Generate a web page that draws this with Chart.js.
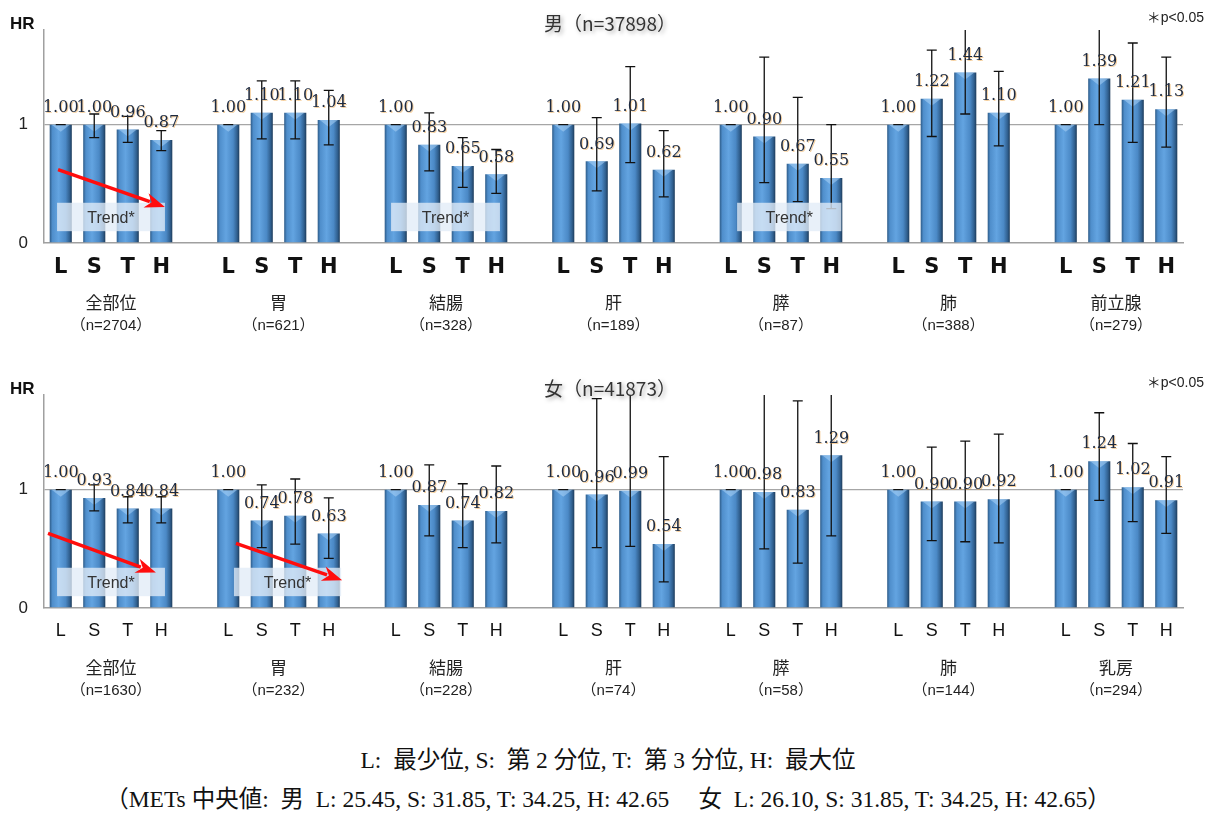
<!DOCTYPE html>
<html>
<head>
<meta charset="utf-8">
<script src="https://cdn.jsdelivr.net/npm/chart.js@4.4.1/dist/chart.umd.min.js"></script>
<style>
  body { margin: 0; background: #fff; width: 1216px; height: 813px; position: relative; overflow: hidden; }
  .panel { position: absolute; left: 0; width: 1216px; height: 365px; }
  #p1 { top: 0; }
  #p2 { top: 365px; }
  .note { position: absolute; left: 0; width: 1216px; text-align: center; white-space: pre;
          font-family: "Liberation Serif", "Noto Sans CJK JP", serif; font-size: 23.5px; line-height: 28px;
          color: #111; }
</style>
</head>
<body>
<div class="panel" id="p1"><canvas id="male"></canvas></div>
<div class="panel" id="p2"><canvas id="female"></canvas></div>
<div class="note" style="top:746px">L:  最少位, S:  第 2 分位, T:  第 3 分位, H:  最大位</div>
<div class="note" style="top:785px">（METs 中央値:  男  L: 25.45, S: 31.85, T: 34.25, H: 42.65　 女  L: 26.10, S: 31.85, T: 34.25, H: 42.65）</div>
<script>
const quartiles = ['L', 'S', 'T', 'H'];

// 男
const sitesMale = ['全部位', '胃', '結腸', '肝', '膵', '肺', '前立腺'];
const countsMale = [2704, 621, 328, 189, 87, 388, 279];
const hrMale = [
  1.00, 1.00, 0.96, 0.87,
  1.00, 1.10, 1.10, 1.04,
  1.00, 0.83, 0.65, 0.58,
  1.00, 0.69, 1.01, 0.62,
  1.00, 0.90, 0.67, 0.55,
  1.00, 1.22, 1.44, 1.10,
  1.00, 1.39, 1.21, 1.13
];
const lowMale = [
  1.00, 0.89, 0.85, 0.78,
  1.00, 0.88, 0.88, 0.83,
  1.00, 0.61, 0.47, 0.42,
  1.00, 0.44, 0.68, 0.39,
  1.00, 0.51, 0.35, 0.29,
  1.00, 0.90, 1.09, 0.82,
  1.00, 1.00, 0.85, 0.81
];
const highMale = [
  1.00, 1.09, 1.07, 0.95,
  1.00, 1.37, 1.37, 1.29,
  1.00, 1.10, 0.89, 0.79,
  1.00, 1.06, 1.49, 0.95,
  1.00, 1.57, 1.23, 1.00,
  1.00, 1.63, 1.95, 1.45,
  1.00, 1.95, 1.69, 1.57
];
const trendSitesMale = [0, 2, 4];
const arrowSitesMale = [0];

// 女
const sitesFemale = ['全部位', '胃', '結腸', '肝', '膵', '肺', '乳房'];
const countsFemale = [1630, 232, 228, 74, 58, 144, 294];
const hrFemale = [
  1.00, 0.93, 0.84, 0.84,
  1.00, 0.74, 0.78, 0.63,
  1.00, 0.87, 0.74, 0.82,
  1.00, 0.96, 0.99, 0.54,
  1.00, 0.98, 0.83, 1.29,
  1.00, 0.90, 0.90, 0.92,
  1.00, 1.24, 1.02, 0.91
];
const lowFemale = [
  1.00, 0.82, 0.72, 0.72,
  1.00, 0.51, 0.54, 0.42,
  1.00, 0.61, 0.51, 0.55,
  1.00, 0.51, 0.52, 0.22,
  1.00, 0.50, 0.38, 0.61,
  1.00, 0.57, 0.56, 0.55,
  1.00, 0.91, 0.73, 0.63
];
const highFemale = [
  1.00, 1.04, 0.94, 0.94,
  1.00, 1.04, 1.09, 0.93,
  1.00, 1.21, 1.05, 1.20,
  1.00, 1.77, 1.95, 1.28,
  1.00, 1.95, 1.75, 1.95,
  1.00, 1.36, 1.41, 1.47,
  1.00, 1.65, 1.39, 1.28
];
const trendSitesFemale = [0, 1];
const arrowSitesFemale = [0, 1];

// annotation geometry, in category units from the site's L slot and in HR units
const trendGeomMale = {
  0: { box: [-0.11, 3.11], arrow: [-0.08, 0.62, 3.11, 0.305] },
  2: { box: [-0.14, 3.11] },
  4: { box: [0.19, 3.30] }
};
const trendGeomFemale = {
  0: { box: [-0.11, 3.11], arrow: [-0.38, 0.63, 2.84, 0.30] },
  1: { box: [0.17, 3.37], arrow: [0.23, 0.546, 3.40, 0.235] }
};

// one blank slot between sites
function spread(values, blank) {
  const out = [];
  for (let g = 0; g < values.length / 4; g++) {
    if (g > 0) out.push(blank);
    for (let k = 0; k < 4; k++) out.push(values[g * 4 + k]);
  }
  return out;
}

const panelPlugin = {
  id: 'panel',
  afterDatasetsDraw(chart, args, o) {
    const { ctx, chartArea: a, scales: { x, y } } = chart;
    const hr = chart.data.datasets[0].data;
    const bars = chart.getDatasetMeta(0).data;

    // bevel highlight on bar tops
    ctx.save();
    bars.forEach((b, i) => {
      if (hr[i] == null) return;
      const w = b.width;
      ctx.beginPath();
      ctx.moveTo(b.x - w / 2 + 2, b.y);
      ctx.lineTo(b.x + w / 2 - 2, b.y);
      ctx.lineTo(b.x, b.y + 7);
      ctx.closePath();
      ctx.fillStyle = 'rgba(170,210,245,0.55)';
      ctx.fill();
    });
    ctx.restore();

    // error bars
    ctx.save();
    ctx.beginPath();
    ctx.rect(a.left, a.top, a.width, a.height);
    ctx.clip();
    ctx.strokeStyle = '#111';
    ctx.lineWidth = 1.3;
    bars.forEach((b, i) => {
      if (hr[i] == null) return;
      const lo = y.getPixelForValue(o.low[i]);
      const hi = y.getPixelForValue(o.high[i]);
      ctx.beginPath();
      ctx.moveTo(b.x, lo); ctx.lineTo(b.x, hi);
      ctx.moveTo(b.x - 5, lo); ctx.lineTo(b.x + 5, lo);
      ctx.moveTo(b.x - 5, hi); ctx.lineTo(b.x + 5, hi);
      ctx.stroke();
    });
    ctx.restore();

    // value labels
    ctx.save();
    ctx.font = '16px "DejaVu Serif", serif';
    ctx.textAlign = 'center';
    ctx.textBaseline = 'middle';
    ctx.shadowColor = 'rgba(235,150,40,0.45)';
    ctx.shadowOffsetX = 1;
    ctx.shadowOffsetY = 1;
    ctx.fillStyle = '#1d2a40';
    bars.forEach((b, i) => {
      if (hr[i] == null) return;
      ctx.fillText(hr[i].toFixed(2), b.x, b.y - 17);
    });
    ctx.restore();

    // trend boxes and arrows
    const slot = g => g * 5;
    ctx.save();
    o.trends.forEach(g => {
      const geo = o.geom[g];
      const x0 = x.getPixelForValue(slot(g) + geo.box[0]);
      const x1 = x.getPixelForValue(slot(g) + geo.box[1]);
      const y0 = y.getPixelForValue(0.34);
      const y1 = y.getPixelForValue(0.10);
      ctx.fillStyle = 'rgba(226,236,247,0.78)';
      ctx.fillRect(x0, y0, x1 - x0, y1 - y0);
      ctx.fillStyle = '#333';
      ctx.font = '16px "Liberation Sans", sans-serif';
      ctx.textAlign = 'center';
      ctx.textBaseline = 'middle';
      ctx.fillText('Trend*', (x0 + x1) / 2, (y0 + y1) / 2 + 2);
    });
    o.arrows.forEach(g => {
      const r = o.geom[g].arrow;
      const ax = x.getPixelForValue(slot(g) + r[0]), ay = y.getPixelForValue(r[1]);
      const bx = x.getPixelForValue(slot(g) + r[2]), by = y.getPixelForValue(r[3]);
      const ang = Math.atan2(by - ay, bx - ax);
      const hl = 20, hw = 7.5;
      const cx = bx - hl * Math.cos(ang), cy = by - hl * Math.sin(ang);
      ctx.strokeStyle = '#ff0d0d';
      ctx.fillStyle = '#ff0d0d';
      ctx.lineWidth = 3.5;
      ctx.beginPath();
      ctx.moveTo(ax, ay); ctx.lineTo(cx + 4 * Math.cos(ang), cy + 4 * Math.sin(ang));
      ctx.stroke();
      ctx.beginPath();
      ctx.moveTo(bx, by);
      ctx.lineTo(cx + hw * Math.sin(ang), cy - hw * Math.cos(ang));
      ctx.lineTo(cx + 6 * Math.cos(ang), cy + 6 * Math.sin(ang));
      ctx.lineTo(cx - hw * Math.sin(ang), cy + hw * Math.cos(ang));
      ctx.closePath();
      ctx.fill();
    });
    ctx.restore();
  },
  afterDraw(chart, args, o) {
    const { ctx, chartArea: a, scales: { x } } = chart;
    ctx.save();
    // HR label
    ctx.fillStyle = '#111';
    ctx.font = 'bold 17px "Liberation Sans", sans-serif';
    ctx.textAlign = 'left';
    ctx.textBaseline = 'middle';
    ctx.fillText('HR', 10, 24);
    // p-value note
    ctx.font = '14px "Liberation Sans", "Noto Sans CJK JP", sans-serif';
    ctx.textAlign = 'right';
    ctx.fillStyle = '#222';
    ctx.fillText('＊p<0.05', 1204, 18);
    // title
    ctx.font = '19px "Noto Sans CJK JP", sans-serif';
    ctx.textAlign = 'center';
    ctx.shadowColor = 'rgba(0,0,0,0.35)';
    ctx.shadowBlur = 4;
    ctx.shadowOffsetX = 2;
    ctx.shadowOffsetY = 2;
    ctx.fillStyle = '#333';
    ctx.fillText(o.title, 610, 24);
    ctx.shadowColor = 'transparent';
    // site names and counts
    ctx.fillStyle = '#222';
    o.sites.forEach((s, g) => {
      const cx = (x.getPixelForValue(g * 5 + 1) + x.getPixelForValue(g * 5 + 2)) / 2;
      ctx.font = '17px "Noto Sans CJK JP", sans-serif';
      ctx.fillText(s, cx, a.bottom + 60);
      ctx.font = '15px "Liberation Sans", "Noto Sans CJK JP", sans-serif';
      ctx.fillText('（n=' + o.counts[g] + '）', cx, a.bottom + 83);
    });
    ctx.restore();
  }
};

function barGradient(c) {
  const chart = c.chart;
  const xs = chart.scales && chart.scales.x;
  if (!chart.chartArea || !xs || c.dataIndex == null) return '#5b9bd5';
  const cx = xs.getPixelForValue(c.dataIndex);
  const w = (xs.getPixelForValue(1) - xs.getPixelForValue(0)) * 0.66;
  if (!isFinite(cx) || !isFinite(w) || w <= 0) return '#5b9bd5';
  const g = chart.ctx.createLinearGradient(cx - w / 2, 0, cx + w / 2, 0);
  g.addColorStop(0, '#2d5b88');
  g.addColorStop(0.12, '#4f8ecb');
  g.addColorStop(0.4, '#63a4e1');
  g.addColorStop(0.72, '#4b89c6');
  g.addColorStop(0.9, '#305f8e');
  g.addColorStop(1, '#1d3b5a');
  return g;
}

function makeChart(id, cfg) {
  const labels = spread(quartiles.concat(quartiles, quartiles, quartiles, quartiles, quartiles, quartiles), '');
  return new Chart(document.getElementById(id), {
    type: 'bar',
    data: {
      labels,
      datasets: [{
        data: spread(cfg.hr, null),
        backgroundColor: barGradient,
        borderWidth: 0,
        barPercentage: 0.66,
        categoryPercentage: 1
      }]
    },
    options: {
      responsive: true,
      maintainAspectRatio: false,
      animation: false,
      events: [],
      layout: { padding: { top: 30, right: 33, left: 0, bottom: 0 } },
      plugins: {
        legend: { display: false },
        tooltip: { enabled: false },
        panel: {
          title: cfg.title,
          sites: cfg.sites,
          counts: cfg.counts,
          low: spread(cfg.low, null),
          high: spread(cfg.high, null),
          trends: cfg.trends,
          arrows: cfg.arrows,
          geom: cfg.geom
        }
      },
      scales: {
        x: {
          grid: { display: false, drawTicks: false },
          border: { color: '#a0a0a0', width: 1.5 },
          ticks: {
            autoSkip: false,
            maxRotation: 0,
            padding: 12,
            color: '#111',
            font: cfg.bold
              ? { family: '"DejaVu Sans", sans-serif', size: 21, weight: 'bold' }
              : { family: '"Liberation Sans", sans-serif', size: 18 }
          },
          afterFit: s => { s.height = 122; }
        },
        y: {
          min: 0,
          max: 1.8,
          afterBuildTicks: s => { s.ticks = [{ value: 0 }, { value: 1 }]; },
          grid: {
            drawTicks: false,
            color: c => c.tick && c.tick.value === 1 ? '#a6a6a6' : 'transparent',
            lineWidth: 1.3
          },
          border: { color: '#a0a0a0', width: 1.5 },
          ticks: {
            padding: 16,
            color: '#222',
            font: { family: '"Liberation Sans", sans-serif', size: 17 }
          },
          afterFit: s => { s.width = 44; }
        }
      }
    },
    plugins: [panelPlugin]
  });
}

makeChart('male', {
  title: '男（n=37898）', sites: sitesMale, counts: countsMale,
  hr: hrMale, low: lowMale, high: highMale,
  trends: trendSitesMale, arrows: arrowSitesMale, geom: trendGeomMale, bold: true
});
makeChart('female', {
  title: '女（n=41873）', sites: sitesFemale, counts: countsFemale,
  hr: hrFemale, low: lowFemale, high: highFemale,
  trends: trendSitesFemale, arrows: arrowSitesFemale, geom: trendGeomFemale, bold: false
});
</script>
</body>
</html>
